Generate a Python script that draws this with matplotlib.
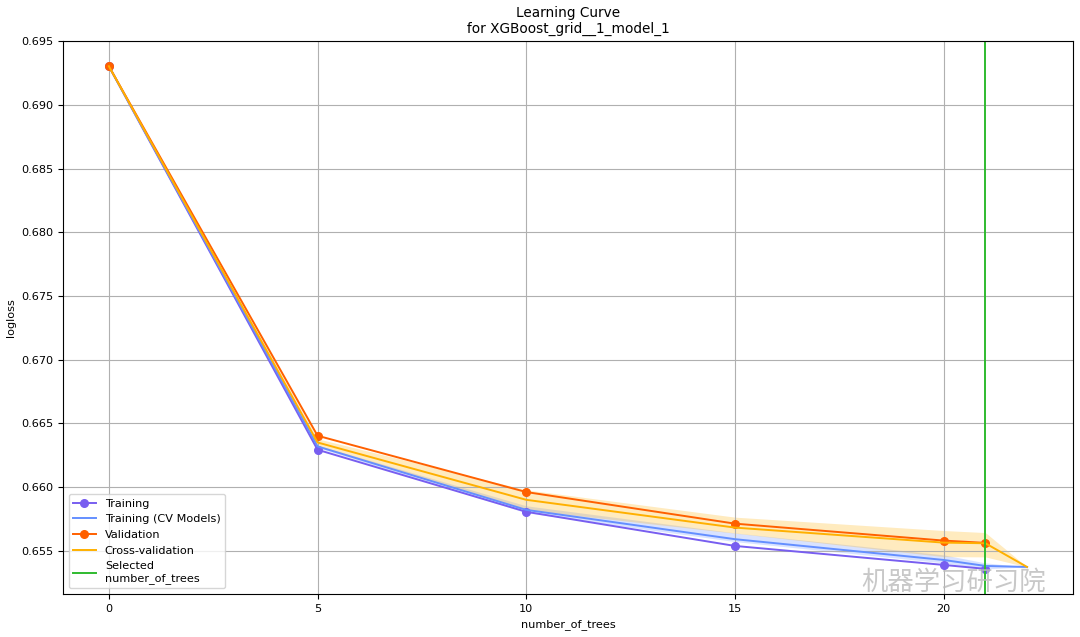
import matplotlib
matplotlib.use("Agg")
import matplotlib.pyplot as plt
import numpy as np

# Data
trees = [0, 5, 10, 15, 20, 21]
training = [0.69304, 0.66294, 0.65807, 0.65539, 0.65390, 0.65359]
validation = [0.69304, 0.66404, 0.65962, 0.65714, 0.65581, 0.65563]

cv_trees = [0, 5, 10, 15, 20, 21, 22]
train_cv = [0.69304, 0.66320, 0.65822, 0.65592, 0.65429, 0.65382, 0.65374]
train_cv_lo = [0.69304, 0.66310, 0.65799, 0.65573, 0.65406, 0.65359, 0.65374]
train_cv_hi = [0.69304, 0.66330, 0.65854, 0.65641, 0.65469, 0.65406, 0.65374]
cv = [0.69304, 0.66351, 0.65901, 0.65683, 0.65565, 0.65560, 0.65374]
cv_lo = [0.69304, 0.66321, 0.65822, 0.65639, 0.65455, 0.65453, 0.65374]
cv_hi = [0.69304, 0.66380, 0.65979, 0.65765, 0.65660, 0.65644, 0.65374]
selected = 21

c_train = "#785ef0"
c_train_cv = "#648fff"
c_valid = "#ff6000"
c_cv = "#ffb000"
c_sel = "#2fbb2f"

plt.rcParams["font.size"] = 8.15

fig = plt.figure(figsize=(10.8, 6.37), dpi=100)
ax = fig.add_axes([0.0583, 0.0675, 0.9352, 0.868])

ax.plot(trees, training, "-o", color=c_train, label="Training", markersize=5.5, lw=1.4)
ax.plot(cv_trees, train_cv, "-", color=c_train_cv, label="Training (CV Models)", lw=1.4)
ax.fill_between(cv_trees, train_cv_lo, train_cv_hi, color=c_train_cv, alpha=0.25, lw=0)
ax.plot(trees, validation, "-o", color=c_valid, label="Validation", markersize=5.5, lw=1.4)
ax.plot(cv_trees, cv, "-", color=c_cv, label="Cross-validation", lw=1.4)
ax.fill_between(cv_trees, cv_lo, cv_hi, color=c_cv, alpha=0.25, lw=0)
ax.axvline(selected, color=c_sel, lw=1.4, label="Selected\nnumber_of_trees")

ax.set_title("Learning Curve\nfor XGBoost_grid__1_model_1")
ax.set_xlabel("number_of_trees")
ax.set_ylabel("logloss")
ax.grid(True)
ax.yaxis.set_major_formatter(matplotlib.ticker.FormatStrFormatter("%.3f"))
ax.legend(loc="lower left")

fig.text(0.797, 0.074, "机器学习研习院", family=["Noto Sans CJK SC", "DejaVu Sans"],
         fontsize=19, color="#bbbbbb", alpha=0.8)

fig.savefig("out.png", dpi=100)
